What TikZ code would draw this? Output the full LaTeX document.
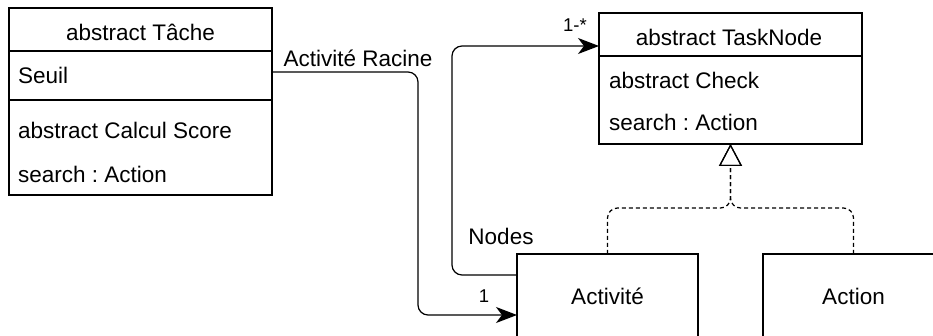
\documentclass[tikz,border=0pt]{standalone}
\usepackage{fontspec}
\setmainfont{Liberation Sans}
\usetikzlibrary{arrows.meta,positioning}
\frenchspacing

\tikzset{
  part/.style={draw, line width=1.2pt, minimum width=263pt, outer sep=0pt, inner sep=0pt},
  txt/.style={inner sep=0pt, text height=16.2pt, text depth=0pt, font=\fontsize{22.5}{27}\selectfont},
  small/.style={txt, text height=13.3pt, font=\fontsize{18.5}{22}\selectfont},
  assoc/.style={line width=1.2pt, rounded corners=10pt, -{Stealth[length=21pt,width=16pt,inset=6pt]}},
  realize/.style={line width=1.2pt, dash pattern=on 4pt off 3pt, rounded corners=10pt, -{Triangle[open,length=22pt,width=23pt]}},
}

\begin{document}
\begin{tikzpicture}[x=1pt, y=-1pt]
\clip (0,0) rectangle (933,336);
% abstract Tâche
\node[part, minimum height=43pt] (tache) at (140.5,29.5) {};
\node[part, minimum height=49pt, below=0pt of tache] (tacheattr) {};
\node[part, minimum height=95pt, below=0pt of tacheattr] (tacheops) {};
\node[txt] (tachename) at (140.5,32.5) {abstract Tâche};
\node[txt, anchor=west] (seuil) at (18,75) {Seuil};
\node[txt, anchor=west] (calcul) at (18,130) {abstract Calcul Score};
\node[txt, anchor=west] (search) at (18,174) {search : Action};
% abstract TaskNode
\node[part, minimum height=43pt] (tasknode) at (730.5,34.5) {};
\node[part, minimum height=88pt, below=0pt of tasknode] (taskbody) {};
\node[txt] (tasknodename) at (729,37) {abstract TaskNode};
\node[txt, anchor=west] (check) at (609,80) {abstract Check};
\node[txt, anchor=west] (tasksearch) at (609,122) {search : Action};
% Activité, Action
\node[part, txt, minimum width=181pt, minimum height=84pt] (activite) at (607.5,296) {Activité};
\node[part, txt, minimum width=181pt, minimum height=84pt] (action) at (853.5,296) {Action};
% associations
\draw[assoc] ([yshift=3.5pt]tacheattr.east) -- (418,72) -- (418,315) -- ([yshift=-19pt]activite.west);
\draw[assoc] ([yshift=21pt]activite.west) -- (452,275) -- (452,46) -- ([yshift=-11.5pt]tasknode.west);
\node[txt] (racine) at (358,58) {Activité Racine};
\node[small] (one) at (484,296) {1};
\node[txt] (nodes) at (501,236) {Nodes};
\node[small] (many) at (575,25) {1-*};
% realisation
\draw[realize] (activite.north) -- (607.5,208) -| (taskbody.south);
\draw[realize] (action.north) -- (853.5,208) -| (taskbody.south);
\end{tikzpicture}
\end{document}
